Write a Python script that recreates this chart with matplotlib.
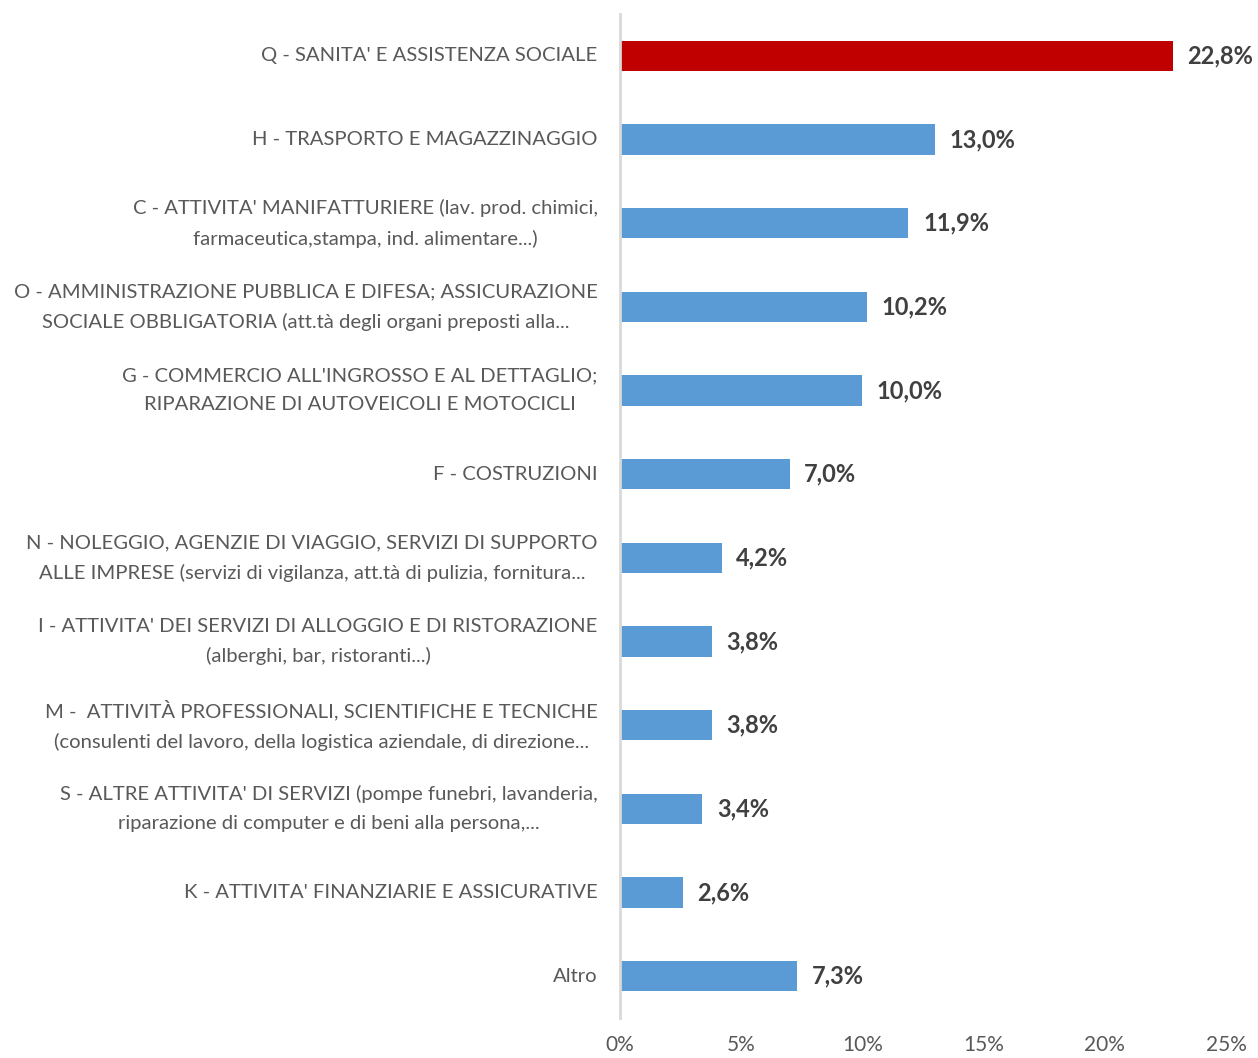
import matplotlib.pyplot as plt
from matplotlib.ticker import FuncFormatter

categories = [
    "Q - SANITA' E ASSISTENZA SOCIALE",
    "H - TRASPORTO E MAGAZZINAGGIO",
    "C - ATTIVITA' MANIFATTURIERE (lav. prod. chimici,\nfarmaceutica,stampa, ind. alimentare...)",
    "O - AMMINISTRAZIONE PUBBLICA E DIFESA; ASSICURAZIONE\nSOCIALE OBBLIGATORIA (att.tà degli organi preposti alla...",
    "G - COMMERCIO ALL'INGROSSO E AL DETTAGLIO;\nRIPARAZIONE DI AUTOVEICOLI E MOTOCICLI",
    "F - COSTRUZIONI",
    "N - NOLEGGIO, AGENZIE DI VIAGGIO, SERVIZI DI SUPPORTO\nALLE IMPRESE (servizi di vigilanza, att.tà di pulizia, fornitura...",
    "I - ATTIVITA' DEI SERVIZI DI ALLOGGIO E DI RISTORAZIONE\n(alberghi, bar, ristoranti...)",
    "M -  ATTIVITÀ PROFESSIONALI, SCIENTIFICHE E TECNICHE\n(consulenti del lavoro, della logistica aziendale, di direzione...",
    "S - ALTRE ATTIVITA' DI SERVIZI (pompe funebri, lavanderia,\nriparazione di computer e di beni alla persona,...",
    "K - ATTIVITA' FINANZIARIE E ASSICURATIVE",
    "Altro",
]
values = [22.8, 13.0, 11.9, 10.2, 10.0, 7.0, 4.2, 3.8, 3.8, 3.4, 2.6, 7.3]
highlight = "Q - SANITA' E ASSISTENZA SOCIALE"

plt.rcParams["font.family"] = ["Lato", "DejaVu Sans"]

fig = plt.figure(figsize=(12.58, 10.58), dpi=100)
ax = fig.add_axes([0.4928, 0.0378, 0.4818, 0.949])

y = list(range(len(categories)))
colors = ["#C00000" if c == highlight else "#5B9BD5" for c in categories]
ax.barh(y, values, height=0.36, color=colors)
for yi, v in zip(y, values):
    ax.text(v + 0.6, yi, f"{v:.1f}%".replace(".", ","), va="center", ha="left",
            fontsize=17, fontweight="bold", color="#404040")

ax.set_ylim(len(categories) - 0.5, -0.5)
ax.set_xlim(0, 25)
ax.set_xticks([0, 5, 10, 15, 20, 25])
ax.xaxis.set_major_formatter(FuncFormatter(lambda x, _: f"{x:.0f}%"))
ax.set_yticks(y)
ax.set_yticklabels(categories, fontsize=14.6, color="#595959", ha="right", va="center",
                   multialignment="center", linespacing=1.85)
ax.tick_params(axis="x", labelsize=15, labelcolor="#595959", length=0, pad=12)
ax.tick_params(axis="y", length=0, pad=16)

for side in ("top", "right", "bottom"):
    ax.spines[side].set_visible(False)
ax.spines["left"].set_color("#D9D9D9")
ax.spines["left"].set_linewidth(2)

fig.savefig("out.png", dpi=100)
